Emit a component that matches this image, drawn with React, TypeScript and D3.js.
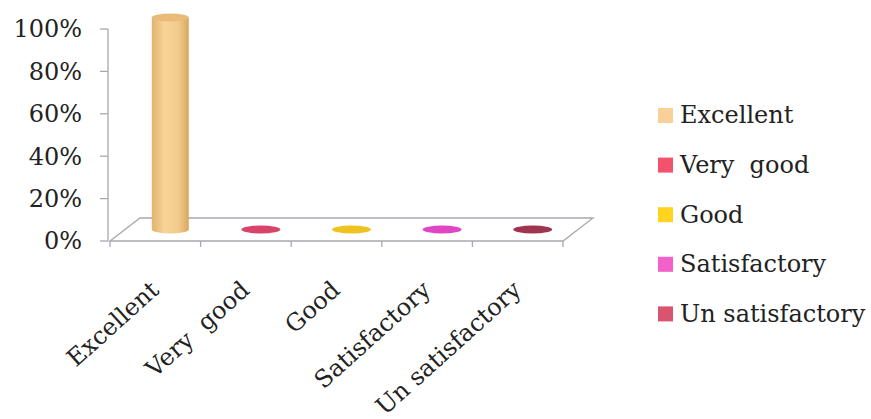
import React from "react";
import * as d3 from "d3";

const categories = ["Excellent", "Very  good", "Good", "Satisfactory", "Un satisfactory"];
const values = [1.0, 0, 0, 0, 0];
const barColors = ["#F3CB8C", "#D8436A", "#F0C21E", "#E045C4", "#9E3450"];
const legendColors = ["#F8D098", "#F2526C", "#FFD41E", "#F262CA", "#D8546F"];
const yTicks = [0, 0.2, 0.4, 0.6, 0.8, 1.0];

const W = 871;
const H = 419;
const DX = 30;
const DY = -23;
const FONT = "DejaVu Serif";

export default function App() {
  const y = d3.scaleLinear().domain([0, 1]).range([241, 29]);
  const x = d3.scaleBand().domain(categories).range([110, 563]).paddingInner(0).paddingOuter(0);
  const bw = x.bandwidth();
  const r = 18.5;
  const ry = 4;
  const x0 = 110, x1 = 563, yb = y(0);
  const floor = [
    [x0, yb], [x0 + DX, yb + DY], [x1 + DX, yb + DY], [x1, yb],
  ];
  const line = d3.line();
  const fmt = d3.format(".0%");
  const tickXs = d3.range(categories.length + 1).map((i) => x0 + i * bw);
  const ts = { fontFamily: FONT, whiteSpace: "pre" as const };

  return (
    <svg width={W} height={H} style={{ position: "absolute", left: 0, top: 0, background: "#fff" }}>
      <defs>
        <linearGradient id="cyl" x1="0" x2="1" y1="0" y2="0">
          <stop offset="0" stopColor="#E2B46E" />
          <stop offset="0.35" stopColor="#F7D497" />
          <stop offset="0.7" stopColor="#F3CB8C" />
          <stop offset="1" stopColor="#D9A862" />
        </linearGradient>
      </defs>
      <path d={line(floor as any) + "Z"} fill="#fff" stroke="#A8A8B0" strokeWidth={1.3} />
      <line x1={108} x2={108} y1={y(1)} y2={y(0)} stroke="#A8A8B0" strokeWidth={1.3} />
      {yTicks.map((t) => (
        <g key={t}>
          <line x1={100} x2={108} y1={y(t)} y2={y(t)} stroke="#A8A8B0" strokeWidth={1.3} />
          <text x={82} y={y(t)} dy="0.35em" textAnchor="end" fontSize={24}
            fill="#222" style={ts}>
            {fmt(t)}
          </text>
        </g>
      ))}
      {tickXs.map((tx, i) => (
        <line key={i} x1={tx} x2={tx} y1={yb} y2={yb + 6} stroke="#A8A8B0" strokeWidth={1.3} />
      ))}
      {categories.map((c, i) => {
        const cx = (x(c) as number) + bw / 2 + DX / 2;
        const base = y(0) + DY / 2;
        const top = y(values[i]) + DY / 2;
        const h = base - top;
        if (h < 1) {
          return <ellipse key={c} cx={cx} cy={base} rx={r + 1} ry={ry} fill={barColors[i]} />;
        }
        return (
          <g key={c}>
            <path
              d={`M${cx - r},${top} L${cx - r},${base} A${r},${ry} 0 0 0 ${cx + r},${base} L${cx + r},${top} Z`}
              fill="url(#cyl)"
            />
            <ellipse cx={cx} cy={top} rx={r} ry={ry} fill="#E8BC78" />
          </g>
        );
      })}
      {categories.map((c) => {
        const ax = (x(c) as number) + bw / 2 + 5;
        const ay = 292;
        return (
          <text key={c} x={ax} y={ay} textAnchor="end" fontSize={24} fill="#222"
            transform={`rotate(-42 ${ax} ${ay})`} style={ts}>
            {c}
          </text>
        );
      })}
      {categories.map((c, i) => {
        const ly = 115 + i * 49.6;
        return (
          <g key={c}>
            <rect x={658} y={ly - 7} width={15} height={15} fill={legendColors[i]} />
            <text x={680} y={ly} dy="0.35em" fontSize={24} fill="#222" style={ts}>
              {c}
            </text>
          </g>
        );
      })}
    </svg>
  );
}
